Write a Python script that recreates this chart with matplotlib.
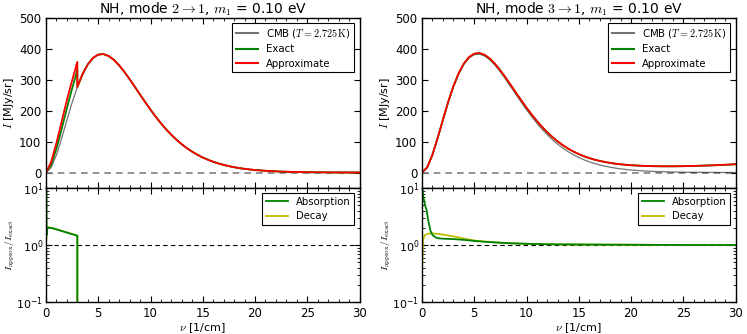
import matplotlib
matplotlib.use("Agg")
import matplotlib.pyplot as plt
from matplotlib.ticker import MultipleLocator, LogLocator, NullFormatter

plt.rcParams.update({
    "font.family": ["DejaVu Sans"],
    "mathtext.fontset": "cm",
    "xtick.direction": "in", "ytick.direction": "in",
    "xtick.top": True, "ytick.right": True,
    "xtick.major.size": 4, "ytick.major.size": 4,
    "xtick.minor.size": 2, "ytick.minor.size": 2,
    "xtick.labelsize": 8.5, "ytick.labelsize": 8.5,
    "axes.linewidth": 1.0,
    "legend.fancybox": False,
    "legend.edgecolor": "black",
    "legend.framealpha": 1.0,
})

# ---- data ----
nu_grid = [0, 0.5, 1, 1.5, 2, 2.5, 3, 3.5, 4, 4.5, 5, 5.5, 6, 6.5, 7, 7.5, 8, 8.5, 9, 9.5,
           10, 10.5, 11, 11.5, 12, 12.5, 13, 13.5, 14, 14.5, 15, 15.5, 16, 16.5, 17, 17.5,
           18, 18.5, 19, 19.5, 20, 21, 22, 23, 24, 25, 26, 27, 28, 29, 30]
cmb = [0, 16.4, 57.1, 111.0, 169.5, 226.3, 276.9, 318.6, 350.0, 370.9, 381.6, 383.3, 377.0,
       364.4, 346.8, 325.7, 302.2, 277.4, 252.3, 227.4, 203.3, 180.6, 159.3, 139.7, 121.8,
       105.7, 91.3, 78.5, 67.2, 57.3, 48.7, 41.3, 34.9, 29.4, 24.7, 20.7, 17.3, 14.4, 12.0,
       9.95, 8.24, 5.63, 3.82, 2.57, 1.72, 1.15, 0.76, 0.50, 0.33, 0.22, 0.14]

# left panel (mode 2->1): distortion only below nu ~ 3
nu_left_low = [0, 0.5, 1, 1.5, 2, 2.5, 3.0]
approx_left_low = [0, 35, 96, 165, 235, 298, 358]
exact_left_low = [0, 25.7, 77.6, 141, 208, 272, 332]

# right panel (mode 3->1)
approx_right = [0, 16.7, 57.8, 112.0, 170.8, 227.9, 278.8, 320.8, 352.5, 373.7, 384.7, 386.7,
                380.7, 368.4, 351.1, 330.3, 307.1, 282.7, 257.9, 233.4, 209.7, 187.4, 166.5,
                147.3, 129.8, 114.2, 100.3, 88.0, 77.2, 67.8, 59.7, 52.8, 46.9, 41.9, 37.7,
                34.2, 31.3, 28.8, 26.8, 25.15, 23.84, 21.9, 20.8, 20.3, 20.3, 20.75, 21.56,
                22.5, 23.73, 25.22, 26.94]
exact_right = [0, 16.6, 57.5, 111.6, 170.3, 227.3, 278.2, 320.1, 351.8, 373.0, 384.0, 386.0,
               380.1, 367.8, 350.6, 329.8, 306.7, 282.3, 257.5, 233.1, 209.4, 187.1, 166.2,
               147.1, 129.6, 114.0, 100.1, 87.8, 77.0, 67.6, 59.5, 52.6, 46.7, 41.7, 37.5,
               34.0, 31.1, 28.6, 26.6, 24.95, 23.64, 21.7, 20.6, 20.1, 20.1, 20.55, 21.36,
               22.3, 23.53, 25.02, 26.74]

# ratio panels
nu_ratio_left = [0.04, 0.06, 0.1, 0.2, 0.4, 0.7, 1.0, 1.5, 2.0, 2.5, 3.0, 3.0]
absorption_left = [10, 1.5, 1.9, 2.02, 2.0, 1.95, 1.88, 1.76, 1.65, 1.55, 1.45, 0.01]
decay_left = [1.3, 1.6, 1.9, 2.03, 2.02, 1.96, 1.89, 1.77, 1.66, 1.56, 1.47, 0.01]

nu_ratio_right = [0.04, 0.1, 0.2, 0.3, 0.45, 0.6, 0.8, 1.0, 1.3, 1.6, 2, 3, 4, 5, 6, 8, 10, 12,
                  15, 20, 25, 30]
absorption_right = [10, 7.5, 6.0, 5.0, 4.0, 2.7, 1.8, 1.5, 1.36, 1.31, 1.29, 1.27, 1.23, 1.18,
                    1.14, 1.08, 1.05, 1.03, 1.02, 1.01, 1.0, 1.0]
decay_right = [0.5, 1.2, 1.4, 1.5, 1.55, 1.58, 1.6, 1.6, 1.58, 1.56, 1.52, 1.42, 1.3, 1.2,
               1.15, 1.08, 1.05, 1.03, 1.02, 1.01, 1.0, 1.0]

titles = [r"NH, mode $2\rightarrow1$, $m_1$ = 0.10 eV",
          r"NH, mode $3\rightarrow1$, $m_1$ = 0.10 eV"]

# ---- figure ----
fig = plt.figure(figsize=(7.47, 3.34), dpi=100)
W, H = 747.0, 334.0
lefts = [46, 422]
width = 313.5
top_ax = []
bot_ax = []
for L in lefts:
    at = fig.add_axes([L / W, 1 - 188 / H, width / W, 170 / H])
    ab = fig.add_axes([L / W, 1 - 302 / H, width / W, 114 / H])
    top_ax.append(at)
    bot_ax.append(ab)

# left data series
nu_left = nu_left_low + nu_grid[6:]
approx_left = approx_left_low + cmb[6:]
exact_left = exact_left_low + cmb[6:]

series_top = [(nu_left, exact_left, approx_left), (nu_grid, exact_right, approx_right)]
series_bot = [(nu_ratio_left, absorption_left, decay_left),
              (nu_ratio_right, absorption_right, decay_right)]

for i in range(2):
    at = top_ax[i]
    nu_s, ex, ap = series_top[i]
    at.axhline(0, color="gray", ls="--", lw=1.2, dashes=(4, 3))
    l1, = at.plot(nu_grid, cmb, color="k", alpha=0.55, lw=0.9,
                  label=r"CMB ($T = 2.725\,\mathrm{K}$)")
    l2, = at.plot(nu_s, ex, color="g", lw=1.3, label="Exact")
    l3, = at.plot(nu_s, ap, color="r", lw=1.3, label="Approximate")
    at.set_xlim(0, 30)
    at.set_ylim(-50, 500)
    at.set_yticks([0, 100, 200, 300, 400, 500])
    at.xaxis.set_major_locator(MultipleLocator(5))
    at.xaxis.set_minor_locator(MultipleLocator(1))
    at.tick_params(axis="x", labelbottom=False)
    at.set_ylabel(r"$I$ [MJy/sr]", fontsize=8, labelpad=2)
    at.set_title(titles[i], fontsize=10, pad=2)
    leg = at.legend(handles=[l1, l2, l3], loc="upper right", fontsize=7.3,
                    handlelength=2.2, borderpad=0.35, labelspacing=0.45)
    leg.get_frame().set_linewidth(0.8)
    for h in leg.get_lines():
        h.set_linewidth(1.5)

    ab = bot_ax[i]
    nr, absr, dec = series_bot[i]
    ab.axhline(1, color="k", ls="--", lw=0.8, dashes=(4, 3))
    ld, = ab.plot(nr, dec, color="y", lw=1.3, label="Decay")
    la, = ab.plot(nr, absr, color="g", lw=1.3, label="Absorption")
    ab.set_yscale("log")
    ab.set_ylim(0.1, 10)
    ab.set_xlim(0, 30)
    ab.xaxis.set_major_locator(MultipleLocator(5))
    ab.xaxis.set_minor_locator(MultipleLocator(1))
    ab.yaxis.set_major_locator(LogLocator(base=10, numticks=5))
    ab.yaxis.set_minor_locator(LogLocator(base=10, subs=range(2, 10), numticks=10))
    ab.yaxis.set_minor_formatter(NullFormatter())
    ab.tick_params(axis="y", labelsize=8, pad=2)
    ab.set_xlabel(r"$\nu$ [1/cm]", fontsize=8, labelpad=1)
    ab.set_ylabel(r"$I_{\rm approx}/I_{\rm exact}$", fontsize=7.0)
    ab.yaxis.set_label_coords(-0.094, 0.5)
    leg2 = ab.legend(handles=[la, ld], loc="upper right", fontsize=7.3,
                     handlelength=2.2, borderpad=0.35, labelspacing=0.45)
    leg2.get_frame().set_linewidth(0.8)

fig.savefig("out.png", dpi=100, facecolor="white")
